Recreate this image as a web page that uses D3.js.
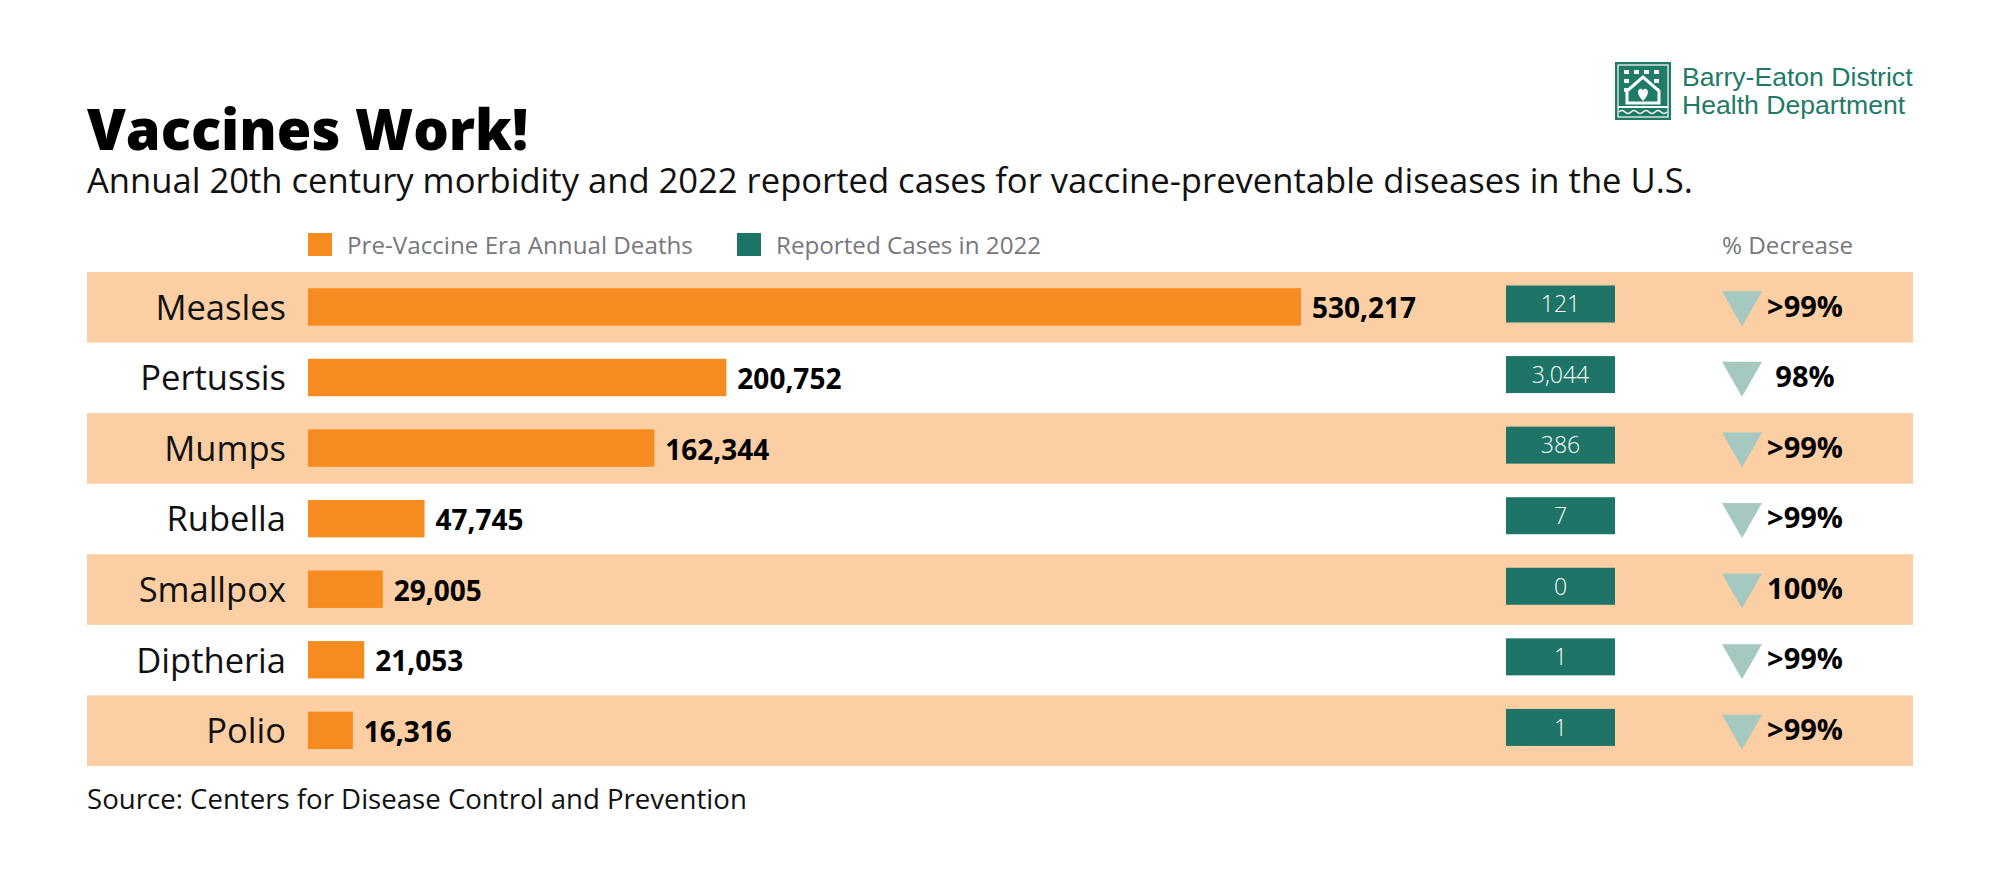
<!DOCTYPE html>
<html>
<head>
<meta charset="utf-8">
<script src="https://cdn.jsdelivr.net/npm/d3@7"></script>
<style>
  body { margin: 0; background: #fff; }
  svg text { font-family: "Open Sans", sans-serif; }
</style>
</head>
<body>
<div id="chart"></div>
<script>
// chart values
var diseases = ["Measles", "Pertussis", "Mumps", "Rubella", "Smallpox", "Diptheria", "Polio"];
var preVaccineDeaths = [530217, 200752, 162344, 47745, 29005, 21053, 16316];
var cases2022 = [121, 3044, 386, 7, 0, 1, 1];
var pctDecrease = [">99%", "98%", ">99%", ">99%", "100%", ">99%", ">99%"];
var legendLabels = ["Pre-Vaccine Era Annual Deaths", "Reported Cases in 2022"];

var orange = "#f68b1f", band = "#fbcfa3", teal = "#1e7466", tri = "#a5c8c1";

var width = 2000, height = 875;

var svg = d3.select("#chart").append("svg")
    .attr("width", width)
    .attr("height", height);

// titles
svg.append("text")
    .attr("x", 87).attr("y", 150)
    .style("font-size", "56px").style("font-weight", 800)
    .text("Vaccines Work!");

svg.append("text")
    .attr("x", 87).attr("y", 193)
    .style("font-size", "34.6px").attr("fill", "#111")
    .text("Annual 20th century morbidity and 2022 reported cases for vaccine-preventable diseases in the U.S.");

svg.append("text")
    .attr("x", 87).attr("y", 809)
    .style("font-size", "27.6px").attr("fill", "#111")
    .text("Source: Centers for Disease Control and Prevention");

// scales
var y = d3.scaleBand()
    .domain(diseases)
    .range([272, 766])
    .padding(0);

var x = d3.scalePow()
    .exponent(0.89)
    .domain([0, d3.max(preVaccineDeaths)])
    .range([308, 1301]);

var fmt = d3.format(",");

var rows = diseases.map(function(d, i) {
    return { name: d, deaths: preVaccineDeaths[i], cases: cases2022[i], pct: pctDecrease[i], i: i };
});

// legend
var legend = svg.append("g").attr("class", "legend");
var legendX = [308, 737];
[orange, teal].forEach(function(c, i) {
    legend.append("rect")
        .attr("x", legendX[i]).attr("y", 233)
        .attr("width", 24).attr("height", 23)
        .attr("fill", c);
    legend.append("text")
        .attr("x", legendX[i] + 39).attr("y", 254)
        .style("font-size", "24.2px").attr("fill", "#77777d")
        .text(legendLabels[i]);
});
legend.append("text")
    .attr("x", 1722).attr("y", 254)
    .style("font-size", "24.2px").attr("fill", "#77777d")
    .text("% Decrease");

// alternating row bands
svg.selectAll(".band")
    .data(rows.filter(function(d) { return d.i % 2 === 0; }))
    .enter().append("rect")
    .attr("class", "band")
    .attr("x", 87).attr("width", 1913 - 87)
    .attr("y", function(d) { return y(d.name); })
    .attr("height", y.bandwidth())
    .attr("fill", band);

var row = svg.selectAll(".row")
    .data(rows)
    .enter().append("g")
    .attr("class", "row")
    .attr("transform", function(d) { return "translate(0," + y(d.name) + ")"; });

var bw = y.bandwidth();

// category labels
row.append("text")
    .attr("x", 286).attr("y", bw / 2)
    .attr("dy", "0.36em")
    .attr("text-anchor", "end")
    .style("font-size", "34.5px").attr("fill", "#111")
    .text(function(d) { return d.name; });

// orange bars
row.append("rect")
    .attr("x", x(0))
    .attr("y", bw * 0.23)
    .attr("width", function(d) { return x(d.deaths) - x(0); })
    .attr("height", bw * 0.53)
    .attr("fill", orange);

row.append("text")
    .attr("x", function(d) { return x(d.deaths) + 11; })
    .attr("y", bw / 2)
    .attr("dy", "0.4em")
    .style("font-size", "28px").style("font-weight", 700)
    .text(function(d) { return fmt(d.deaths); });

// 2022 case boxes
row.append("rect")
    .attr("x", 1506).attr("width", 109)
    .attr("y", 13.5).attr("height", 37)
    .attr("fill", teal);

row.append("text")
    .attr("x", 1560.5).attr("y", 32)
    .attr("dy", "0.36em")
    .attr("text-anchor", "middle")
    .style("font-size", "23px").style("font-weight", 300).attr("fill", "#fff")
    .text(function(d) { return fmt(d.cases); });

// decrease triangles
row.append("path")
    .attr("d", "M1722," + (bw / 2 - 16) + "L1762," + (bw / 2 - 16) + "L1742," + (bw / 2 + 19) + "Z")
    .attr("fill", tri);

row.append("text")
    .attr("x", 1805).attr("y", bw / 2)
    .attr("dy", "0.32em")
    .attr("text-anchor", "middle")
    .style("font-size", "29px").style("font-weight", 700)
    .text(function(d) { return d.pct; });

// logo
var logo = svg.append("g").attr("transform", "translate(1615,62)");
var logoTeal = "#1f7a67";
logo.append("rect").attr("width", 56).attr("height", 58).attr("fill", logoTeal);
logo.append("rect").attr("x", 3).attr("y", 3).attr("width", 50).attr("height", 52)
    .attr("fill", "none").attr("stroke", "#fff").attr("stroke-width", 1.2);
[[9, 8], [19, 8], [29, 8], [39, 8], [9, 17], [39, 17], [9, 26], [39, 26]].forEach(function(p) {
    logo.append("rect").attr("x", p[0]).attr("y", p[1]).attr("width", 5).attr("height", 4).attr("fill", "#fff");
});
logo.append("path")
    .attr("d", "M12,41 L12,29 L28,15 L44,29 L44,41 Z")
    .attr("fill", logoTeal).attr("stroke", "#fff").attr("stroke-width", 3);
logo.append("path")
    .attr("d", "M28,39 C22,33 22,28 25,27 C27,26 28,28 28,29 C28,28 29,26 31,27 C34,28 34,33 28,39 Z")
    .attr("fill", "#fff");
logo.append("rect").attr("x", 3).attr("y", 44).attr("width", 50).attr("height", 2).attr("fill", "#fff");
logo.append("path")
    .attr("d", "M4,50 Q7,47 10,50 T16,50 T22,50 T28,50 T34,50 T40,50 T46,50 T52,50")
    .attr("fill", "none").attr("stroke", "#fff").attr("stroke-width", 1.5);

svg.append("text")
    .attr("x", 1682).attr("y", 86)
    .style("font-family", "'Liberation Sans', Arial, sans-serif")
    .style("font-size", "26.6px").attr("fill", logoTeal)
    .text("Barry-Eaton District");
svg.append("text")
    .attr("x", 1682).attr("y", 114)
    .style("font-family", "'Liberation Sans', Arial, sans-serif")
    .style("font-size", "26.6px").attr("fill", logoTeal)
    .text("Health Department");
</script>
</body>
</html>
